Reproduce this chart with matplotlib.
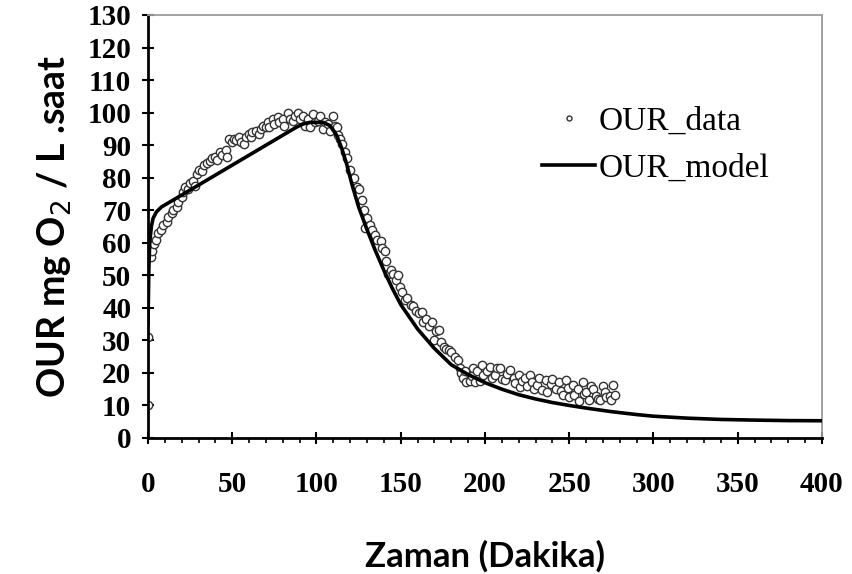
import matplotlib
matplotlib.use('Agg')
import matplotlib.pyplot as plt
from matplotlib.ticker import MultipleLocator

# OUR olcum verileri (dakika, mg O2/L.saat)
data_x = [0, 0, 1.5, 2.5, 3.5, 5, 6, 8, 9, 11, 12, 14, 15, 17, 18, 20, 21, 22, 24, 25,
          27, 28, 29, 30, 32, 33, 35, 37, 38, 40, 41, 43, 44, 46, 47, 48, 50, 51, 52, 54,
          55, 57, 58, 60, 61, 62, 64, 66, 67, 68, 70, 71, 72, 74, 75, 77, 78, 80, 81, 83,
          84, 86, 87, 89, 90, 92, 93, 95, 96, 98, 99, 101, 102, 104, 105, 107, 108, 110, 111, 112,
          113, 114, 115, 117, 118, 120, 122, 124, 125, 127, 128, 130, 128.5, 132, 133, 135, 136, 138, 139, 140.5,
          141.5, 142.5, 144, 145.5, 147, 148.5, 149.5, 151, 152.5, 154, 156, 157.5, 159, 161, 162.5, 163.5, 165, 167, 168.5, 170,
          171, 172.5, 174, 175.5, 177, 178.5, 180, 182, 184, 185, 186, 187, 188, 189, 191, 192, 193, 194, 195.5, 197,
          198, 199, 201, 203, 204, 206, 207, 209, 210, 212, 213, 215, 217, 218, 220, 221, 222, 224, 225, 227,
          228, 229, 231, 232, 234, 236, 237, 239, 240, 242, 244, 245, 246, 248, 249, 250, 252, 253, 255, 256,
          258, 259, 260, 262, 263, 264, 266, 267, 268, 270, 271, 272, 274, 275, 276, 277]
data_y = [10, 31, 55.5, 57.5, 59.5, 61, 63, 64, 65.5, 66.5, 68, 69, 70, 71, 72.5, 74, 75.5, 77, 76.5, 78.5,
          79, 77.5, 81, 82.5, 82, 84, 84.5, 85, 86, 86.5, 85.5, 88, 87, 88.5, 86.5, 92, 91, 92, 91.5, 92.5,
          91, 90.5, 92.5, 93.5, 92.5, 94, 94.5, 93.5, 95, 96, 95.5, 97, 95.5, 98, 96.5, 98.5, 97, 98, 96, 100,
          98, 97.5, 99, 100, 98, 99, 96, 98, 95.5, 99.5, 97, 97.5, 99, 95, 97, 96.5, 94.5, 99, 96, 95.5,
          93, 92, 90.5, 88, 86, 82.5, 80, 77, 76.5, 73, 70, 67.5, 64.5, 65.5, 64, 62.5, 61, 60.5, 58.5, 57.5,
          54.5, 50.5, 51.5, 50.5, 48.5, 50, 46.5, 45, 42.5, 43, 41, 40.5, 39, 38.5, 38.8, 35.7, 36.5, 34.5, 35.7, 30,
          33, 33.2, 29.5, 28, 27.5, 27, 26.5, 25, 24, 21.5, 20, 18.3, 20.5, 17.3, 17.5, 19, 21.4, 17.3, 20.5, 17.5,
          22.4, 19.3, 20.5, 21.9, 18.5, 19.5, 21.4, 21.4, 18, 17.8, 19.8, 21, 18.5, 17, 19.3, 15.8, 17.5, 18.3, 16, 19.5,
          17.3, 15.2, 16.3, 18.5, 14.8, 17.8, 14.2, 16.5, 18, 15, 17.3, 14.5, 13.2, 17.8, 15.5, 12.5, 16.3, 13.2, 15, 11.5,
          17.3, 13.5, 14.2, 11.7, 16, 15.2, 13, 12, 11.7, 16, 14.2, 12.5, 13, 11.7, 16.3, 13.2]

# model egrisi
model_x = [0, 0.5, 1, 2, 3, 5, 8, 88, 92, 96, 100, 104, 108, 112, 115, 118, 121, 125, 130, 135,
           140, 145, 150, 160, 170, 180, 190, 200, 210, 220, 230, 240, 250, 260, 275, 290, 300, 320, 340, 360,
           380, 400]
model_y = [35, 52, 60, 65, 67.5, 69.5, 71, 95.5, 96.5, 97, 97, 97, 96, 93, 89, 84, 78, 71, 64, 57.5,
           51.5, 46, 41, 33.5, 27.5, 22.5, 19.5, 17, 15, 13.3, 12, 10.9, 10, 9.2, 8.1, 7.2, 6.7, 6.1, 5.7, 5.5,
           5.35, 5.3]

fig = plt.figure(figsize=(8.53, 5.74), dpi=100)
ax = fig.add_axes([148/853, 136/574, 674/853, 423/574])

ax.plot(data_x, data_y, 'o', markersize=6, markerfacecolor='white', markeredgecolor='#333333',
        markeredgewidth=1.0, label='OUR_data', zorder=2)
ax.plot(model_x, model_y, '-', color='black', linewidth=2.6, label='OUR_model', zorder=3)

ax.set_xlim(0, 400)
ax.set_ylim(0, 130)
ax.xaxis.set_major_locator(MultipleLocator(50))
ax.xaxis.set_minor_locator(MultipleLocator(10))
ax.yaxis.set_major_locator(MultipleLocator(10))

for s in ['left', 'bottom']:
    ax.spines[s].set_linewidth(2.0)
    ax.spines[s].set_color('black')
for s in ['top', 'right']:
    ax.spines[s].set_linewidth(1.3)
    ax.spines[s].set_color('#9a9a9a')

ax.tick_params(axis='both', which='major', direction='inout', length=8, width=1.5,
               top=False, right=False)
ax.tick_params(axis='x', which='minor', direction='out', length=3.5, width=1.2, top=False)
ax.tick_params(axis='y', which='major', pad=8)
ax.tick_params(axis='x', which='major', pad=20)
for lab in ax.get_xticklabels() + ax.get_yticklabels():
    lab.set_fontfamily('Liberation Serif')
    lab.set_fontweight('bold')
    lab.set_fontsize(21)

ax.set_xlabel('Zaman (Dakika)', fontfamily='Lato', fontweight='bold', fontsize=25, labelpad=30)
ax.set_ylabel('OUR mg O$_2$ / L .saat', fontfamily='Lato', fontweight='bold', fontsize=27, labelpad=10)

leg = ax.legend(loc='upper left', bbox_to_anchor=(0.54, 0.855), frameon=False,
                prop={'family': 'Liberation Serif', 'size': 24}, handlelength=1.6,
                handletextpad=0.1, labelspacing=0.5, markerscale=0.6)

fig.savefig('out.png', dpi=100)
